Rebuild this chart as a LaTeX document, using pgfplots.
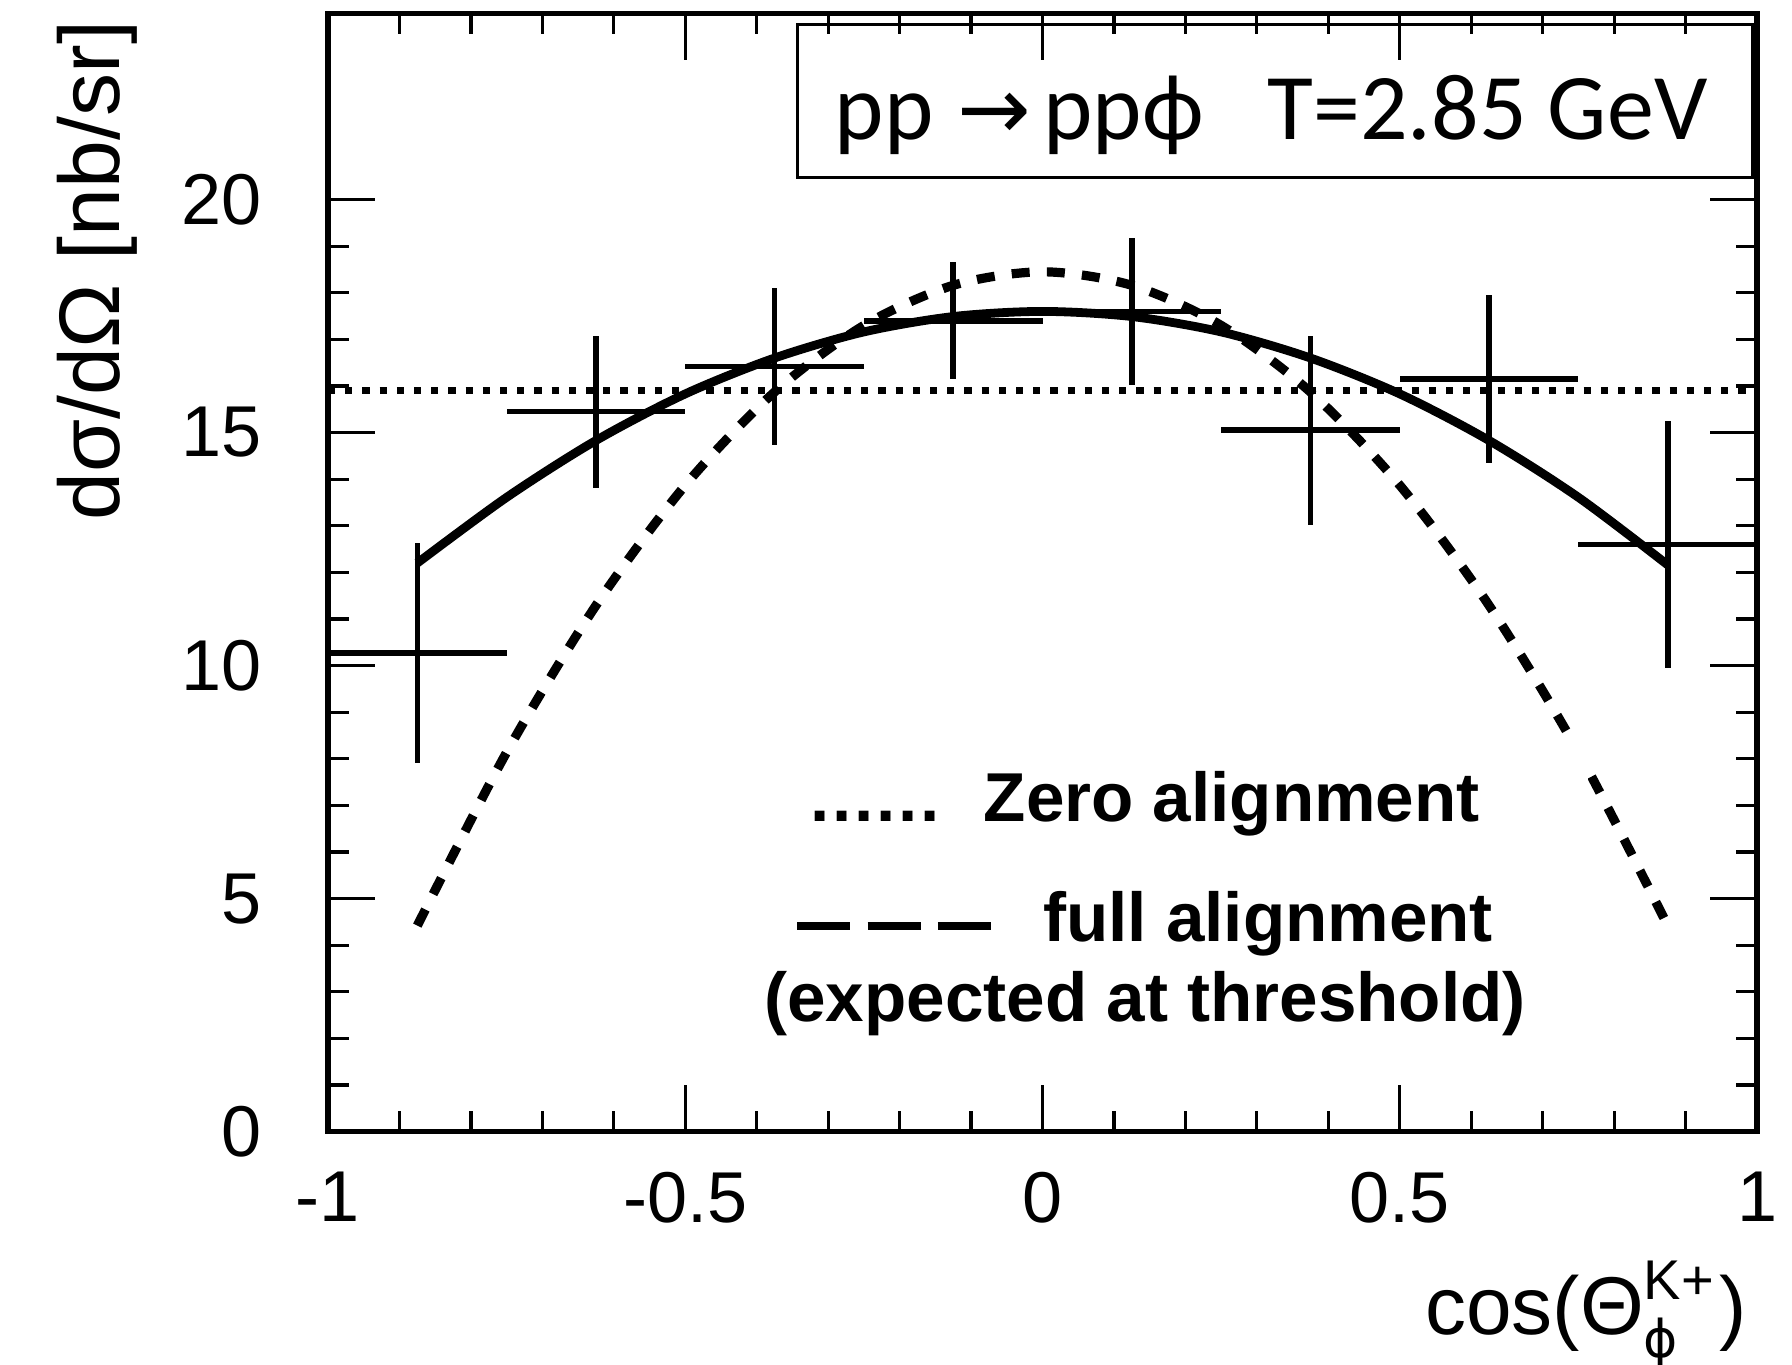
\documentclass[border=0pt]{standalone}
\usepackage{fontspec}
\setmainfont{Liberation Sans}
\newfontfamily\calfont{Carlito}
\newfontfamily\dejavu{DejaVu Sans}
\usepackage{pgfplots}
\usepackage{pgfplotstable}
\pgfplotsset{compat=1.18}

\pgfplotstableread{
x y ex ey
-0.875 10.27 0.125 2.37
-0.625 15.45 0.125 1.63
-0.375 16.42 0.125 1.68
-0.125 17.40 0.125 1.25
0.125 17.60 0.125 1.58
0.375 15.05 0.125 2.03
0.625 16.15 0.125 1.80
0.875 12.60 0.125 2.65
}\datatable

\begin{document}
\begin{tikzpicture}
\begin{axis}[
  scale only axis,
  width=357.25pt, height=279.6pt,
  xmin=-1, xmax=1, ymin=0, ymax=24,
  xtick={-1,-0.5,0,0.5,1},
  xticklabels={-1,-0.5,0,0.5,1},
  ytick={0,5,10,15,20},
  yticklabels={0,5,10,15,20},
  minor x tick num=4,
  minor y tick num=4,
  tick align=inside,
  xtick pos=both, ytick pos=both,
  major tick length=11.7pt,
  minor tick length=5.2pt,
  every tick/.style={line width=0.8pt, black},
  axis line style={line width=1.3pt, black},
  ticklabel style={font=\fontsize{18}{18}\selectfont},
  yticklabel style={anchor=east, inner sep=0pt, xshift=-16.5pt},
  xticklabel style={anchor=north, inner sep=0pt, yshift=-10pt},
  clip=false,
]
% zero alignment (isotropic)
\addplot[black, line width=1.9pt, dash pattern=on 1.8pt off 2.5pt] coordinates {(-1,15.9) (1,15.9)};
% full alignment
\addplot[black, line width=2.3pt, dash pattern=on 4.5pt off 4.3pt, smooth] coordinates {
(-0.875,4.42) (-0.75,8.14) (-0.625,11.29) (-0.5,13.87) (-0.375,15.87) (-0.25,17.30) (-0.125,18.16) (0,18.45)
(0.125,18.16) (0.25,17.30) (0.375,15.87) (0.5,13.87) (0.625,11.29) (0.75,8.14) (0.875,4.42)};
% fit
\addplot[black, line width=2.2pt, smooth] coordinates {
(-0.875,12.20) (-0.75,13.61) (-0.625,14.83) (-0.5,15.83) (-0.375,16.60) (-0.25,17.16) (-0.125,17.49) (0,17.60)
(0.125,17.49) (0.25,17.16) (0.375,16.60) (0.5,15.83) (0.625,14.83) (0.75,13.61) (0.875,12.16)};
% data
\addplot[draw=none, mark=none,
  error bars/.cd, x dir=both, x explicit, y dir=both, y explicit,
  error mark=none, error bar style={draw=black, line width=1.4pt, solid}]
  table[x=x, y=y, x error=ex, y error=ey] {\datatable};

\fill[white] (axis cs:-0.2,5.9) rectangle (axis cs:0.7635,8.52);

\node[anchor=base, inner sep=0pt, font=\fontsize{17.3}{20}\selectfont\bfseries] at (axis cs:0.1435,6.646) {.\hspace{0.7pt}.\hspace{0.7pt}.\hspace{0.7pt}.\hspace{0.7pt}.\hspace{0.7pt}.\hspace{11pt}Zero alignment};
\node[anchor=base, inner sep=0pt, font=\fontsize{17.3}{20}\selectfont\bfseries] at (axis cs:0.1435,4.07) {\rule[3pt]{13.3pt}{2pt}\hspace{4.3pt}\rule[3pt]{13.3pt}{2pt}\hspace{4.3pt}\rule[3pt]{13.3pt}{2pt}\hspace{13pt}full alignment};
\node[anchor=base, inner sep=0pt, font=\fontsize{17.3}{20}\selectfont\bfseries] at (axis cs:0.1435,2.355) {(expected at threshold)};

\draw[black, line width=0.75pt] (axis cs:-0.343,23.75) rectangle (axis cs:0.993,20.47);
\node[anchor=base west, inner sep=0pt, font=\calfont\fontsize{23.5}{24}\selectfont] at (axis cs:-0.2918,21.28) {pp\hspace{6pt}{\dejavu\fontsize{22}{22}\selectfont →}\hspace{3pt}ppϕ\hspace{16pt}T=2.85 GeV};
\end{axis}

\node[rotate=90, anchor=base east, inner sep=0pt, font=\fontsize{21.5}{22}\selectfont] at ([xshift=-52pt,yshift=-1.75pt]current axis.north west) {dσ/dΩ [nb/sr]};
\node[anchor=base east, inner sep=0pt, font=\fontsize{20.5}{21}\selectfont] at ([xshift=-2.25pt,yshift=-50.8pt]current axis.south east) {cos(Θ\rlap{\raisebox{-5.75pt}{\dejavu\fontsize{13}{13}\selectfont ϕ}}\raisebox{8.75pt}{\fontsize{14}{14}\selectfont K+}\hspace{1.5pt})};

\pgfresetboundingbox
\useasboundingbox ([xshift=-82pt,yshift=-58.3pt]current axis.south west) rectangle ([xshift=8.75pt,yshift=3.3pt]current axis.north east);
\end{tikzpicture}
\end{document}
